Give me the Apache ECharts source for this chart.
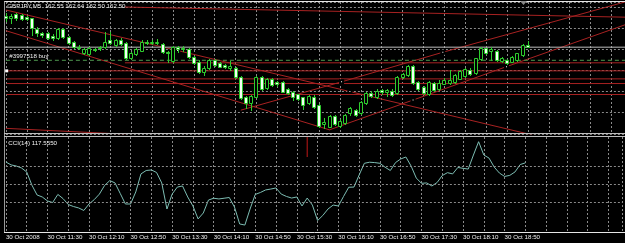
<!DOCTYPE html>
<html>
<head>
<meta charset="utf-8">
<script src="https://cdn.jsdelivr.net/npm/echarts@6/dist/echarts.min.js"></script>
<style>
html, body { margin: 0; padding: 0; background: #000; }
#chart { width: 625px; height: 243px; }
</style>
</head>
<body>
<div id="chart"></div>
<script>
// GBPJPY M5, 30 Oct 2008 - bar 0 is 10:50, bar 100 is 19:10
var opens = [163.24,163.19,163.29,163.26,163.21,163.18,162.93,162.84,162.84,162.76,
  162.72,162.93,162.74,162.62,162.51,162.36,162.34,162.46,162.47,162.50,
  162.67,162.55,162.67,162.60,162.24,162.34,162.42,162.62,162.60,162.60,
  162.58,162.39,162.17,162.50,162.48,162.45,162.26,162.16,161.91,162.01,
  162.20,162.12,162.08,162.01,162.00,161.80,161.32,161.19,161.33,161.79,
  161.53,161.74,161.68,161.68,161.50,161.44,161.39,161.31,161.17,161.33,
  161.13,160.68,160.62,160.87,160.64,160.71,160.94,161.01,160.94,161.18,
  161.42,161.32,161.48,161.44,161.47,161.41,161.79,161.84,162.06,161.68,
  161.55,161.39,161.66,161.50,161.63,161.66,161.68,161.75,161.82,161.96,
  161.88,162.21,162.47,162.41,162.42,162.17,162.20,162.16,162.20,162.32,
  162.55];
var highs = [163.31,163.29,163.31,163.29,163.24,163.20,162.98,162.87,162.86,162.81,
  162.95,162.95,162.76,162.65,162.54,162.48,162.50,162.49,162.53,162.86,
  162.87,162.69,162.72,162.62,162.39,162.47,162.67,162.67,162.66,162.69,
  162.60,162.42,162.53,162.53,162.52,162.48,162.29,162.19,162.06,162.22,
  162.22,162.15,162.10,162.17,162.03,161.83,161.35,161.37,161.82,161.82,
  161.76,161.76,161.71,161.70,161.53,161.46,161.40,161.33,161.37,161.36,
  161.16,160.83,160.90,160.90,160.79,160.92,161.09,161.04,161.23,161.44,
  161.46,161.50,161.52,161.51,161.50,161.81,161.89,162.08,162.08,161.70,
  161.58,161.70,161.68,161.72,161.76,161.96,161.87,161.96,162.00,162.01,
  162.24,162.50,162.48,162.50,162.43,162.27,162.22,162.29,162.37,162.58,
  162.64];
var lows = [163.12,163.08,163.14,163.14,163.14,162.79,162.76,162.74,162.69,162.67,
  162.69,162.72,162.58,162.49,162.46,162.34,162.32,162.41,162.43,162.48,
  162.58,162.53,162.55,162.22,162.22,162.32,162.41,162.58,162.58,162.58,
  162.36,162.15,162.15,162.39,162.41,162.24,162.10,161.89,161.84,161.98,
  162.06,162.02,162.00,161.96,161.78,161.27,161.06,161.01,161.31,161.49,
  161.51,161.58,161.58,161.43,161.39,161.25,161.25,161.04,161.16,161.06,
  160.61,160.59,160.60,160.66,160.61,160.68,160.90,160.87,160.92,161.16,
  161.32,161.30,161.40,161.35,161.35,161.39,161.77,161.82,161.63,161.49,
  161.40,161.37,161.46,161.49,161.62,161.64,161.66,161.74,161.79,161.84,
  161.87,162.20,162.35,162.20,162.17,162.15,162.11,162.14,162.17,162.29,
  162.50];
var closes = [163.19,163.24,163.19,163.17,163.17,162.95,162.84,162.80,162.72,162.72,
  162.93,162.74,162.60,162.51,162.48,162.46,162.48,162.44,162.50,162.62,
  162.60,162.67,162.58,162.24,162.36,162.45,162.62,162.60,162.62,162.62,
  162.39,162.36,162.50,162.46,162.45,162.26,162.12,161.92,162.00,162.20,
  162.08,162.04,162.02,162.06,161.80,161.29,161.17,161.35,161.79,161.51,
  161.74,161.61,161.62,161.45,161.41,161.33,161.27,161.13,161.35,161.09,
  160.64,160.73,160.87,160.68,160.75,160.90,161.05,160.90,161.21,161.42,
  161.35,161.47,161.43,161.49,161.37,161.79,161.87,162.06,161.65,161.50,
  161.42,161.68,161.49,161.66,161.72,161.72,161.84,161.94,161.98,161.87,
  162.24,162.47,162.37,162.46,162.20,162.24,162.13,162.26,162.36,162.55,
  162.50];
var cci = [122,106,100,89,67,-6,-61,-72,-94,-103,
  -58,-81,-114,-125,-133,-147,-111,-87,-56,-8,
  19,6,-52,-111,-111,-44,56,75,78,64,
  6,-139,-56,-17,-11,-72,-122,-194,-161,-89,
  -79,-83,-79,-75,-128,-222,-228,-139,-58,-47,
  -33,-28,-22,-56,-69,-78,-72,-122,-78,-117,
  -203,-175,-139,-117,-122,-69,-18,-17,50,115,
  121,119,115,93,75,119,139,150,100,33,
  4,6,-11,8,47,63,56,92,87,83,
  161,235,161,144,94,61,42,48,67,108,
  117.555];
var cciLevels = [100, 0, -100];

var tickBars = [0, 8, 16, 24, 32, 40, 48, 56, 64, 72, 80, 88, 96];
var tickLabels = ['30 Oct 2008', '30 Oct 11:30', '30 Oct 12:10', '30 Oct 12:50', '30 Oct 13:30',
  '30 Oct 14:10', '30 Oct 14:50', '30 Oct 15:30', '30 Oct 16:10', '30 Oct 16:50',
  '30 Oct 17:30', '30 Oct 18:10', '30 Oct 18:50'];

// drawn objects, as [bar, price]
var trendA = [[0, 163.38], [32.9, 162.42], [65.9, 161.45], [102, 160.39]];
var trendB = [[0, 162.89], [62.1, 160.54]];
var trendC1 = [[45, 161.01], [64.3, 161.68], [83.7, 162.38], [118.6, 163.57]];
var trendC2 = [[62.1, 160.55], [78, 161.25], [95.9, 162.04], [118.6, 163.03]];
var trendTop = [[22.8, 163.45], [118.6, 163.21]];
var trendLow = [[0, 160.58], [23, 160.44]];
var levelsFull = [161.94, 161.75, 161.64, 161.38];
var levelLate = 162.13;
var orderPrice = 162.19;
var bidPrice = 162.50;
var cciMarkBar = 58;

var GREEN = '#2ecc2e';
var RED = '#a82222';
var GRID = '#8a8a8a';

var candleData = opens.map(function (o, i) { return [i, o, closes[i], lows[i], highs[i]]; });
var cciData = cci.map(function (v, i) { return [i, v]; });

function renderCandle(params, api) {
  var i = api.value(0);
  var o = api.coord([i, api.value(1)]);
  var c = api.coord([i, api.value(2)]);
  var l = api.coord([i, api.value(3)]);
  var h = api.coord([i, api.value(4)]);
  var x = Math.round(o[0]) + 0.5;
  var top = Math.round(Math.min(o[1], c[1])) + 0.5;
  var bot = Math.round(Math.max(o[1], c[1])) + 0.5;
  var bear = api.value(2) < api.value(1);
  return {
    type: 'group',
    children: [
      { type: 'line', shape: { x1: x, y1: Math.round(h[1]), x2: x, y2: Math.round(l[1]) + 1 },
        style: { stroke: GREEN, lineWidth: 1 } },
      { type: 'rect', shape: { x: x - 2, y: top, width: 3, height: Math.max(bot - top, 0) },
        style: { fill: bear ? '#f4fff4' : '#000', stroke: GREEN, lineWidth: 1 } }
    ]
  };
}

function anchored(pts) {
  // first/last points are ends of the ray, middle ones are the anchor squares
  return pts.map(function (p, k) {
    if (k === 0 || k === pts.length - 1) return { value: p, symbol: 'none' };
    return { value: p, symbol: 'emptyRect', symbolSize: 3 };
  });
}

function redLine(pts) {
  return {
    type: 'line', xAxisIndex: 0, yAxisIndex: 0, data: anchored(pts),
    symbol: 'none', showSymbol: true, silent: true, clip: true,
    lineStyle: { color: RED, width: 1 }, itemStyle: { color: '#000', borderColor: RED, borderWidth: 1 },
    z: 3
  };
}

var series = [];
series.push(redLine(trendA));
series.push(redLine(trendB));
series.push(redLine(trendC1));
series.push(redLine(trendC2));
series.push(redLine(trendTop));
series.push(redLine(trendLow));
levelsFull.forEach(function (p, k) {
  series.push({
    type: 'line', xAxisIndex: 0, yAxisIndex: 0, silent: true,
    data: [{ value: [0.15, p], symbol: k === 0 ? 'rect' : 'none', symbolSize: 3 }, { value: [118.6, p], symbol: 'none' }],
    symbol: 'none', showSymbol: true,
    lineStyle: { color: RED, width: 1 }, itemStyle: { color: '#fff' }, z: 3
  });
});
series.push({
  type: 'line', xAxisIndex: 0, yAxisIndex: 0, silent: true, symbol: 'none',
  data: [[22.8, levelLate], [118.6, levelLate]],
  lineStyle: { color: RED, width: 1 }, z: 3
});
series.push({
  type: 'line', xAxisIndex: 0, yAxisIndex: 0, silent: true, symbol: 'none',
  data: [[0, orderPrice], [118.6, orderPrice]],
  lineStyle: { color: '#4f9a4f', width: 1, type: [4, 3] }, z: 3
});
series.push({
  type: 'line', xAxisIndex: 0, yAxisIndex: 0, silent: true, symbol: 'none',
  data: [[-1, bidPrice], [118.6, bidPrice]],
  lineStyle: { color: '#bdbdbd', width: 1 }, z: 3
});
series.push({
  type: 'custom', xAxisIndex: 0, yAxisIndex: 0, renderItem: renderCandle,
  data: candleData, encode: { x: 0, y: [1, 2, 3, 4] }, z: 5, silent: true
});
series.push({
  type: 'line', xAxisIndex: 1, yAxisIndex: 1, data: cciData, symbol: 'none', silent: true,
  lineStyle: { color: '#7dbdb3', width: 1 }, z: 4,
  markLine: {
    silent: true, symbol: 'none', label: { show: false },
    lineStyle: { color: GRID, type: [2, 2], width: 1 },
    data: cciLevels.map(function (v) { return { yAxis: v }; })
  }
});
series.push({
  type: 'line', xAxisIndex: 1, yAxisIndex: 1, silent: true, symbol: 'none',
  data: [[cciMarkBar, 261], [cciMarkBar, 150]],
  lineStyle: { color: '#c01818', width: 1 }, z: 4
});

function xAxisCfg(idx, labels) {
  return {
    gridIndex: idx, type: 'value', min: 0, max: 118.6, interval: 4,
    axisLine: { show: false }, axisTick: { show: false },
    splitLine: { show: true, lineStyle: { color: GRID, type: [2, 2], width: 1 } },
    axisLabel: labels ? {
      show: true, color: '#f0f0f0', fontSize: 6.2, fontFamily: 'Liberation Sans',
      align: 'left', margin: 2,
      formatter: function (v) {
        var k = tickBars.indexOf(Math.round(v));
        return k < 0 ? '' : tickLabels[k];
      }
    } : { show: false }
  };
}

var txt = { fill: '#f0f0f0', fontSize: 6.2, fontFamily: 'Liberation Sans', verticalAlign: 'middle' };

var chart = echarts.init(document.getElementById('chart'));
chart.setOption({
  backgroundColor: '#000',
  animation: false,
  grid: [
    { left: 5.9, right: 0, top: 2, height: 131.84 },
    { left: 5.9, right: 0, top: 137, height: 95.5 }
  ],
  xAxis: [xAxisCfg(0, false), xAxisCfg(1, true)],
  yAxis: [
    { gridIndex: 0, type: 'value', min: 160.45, max: 163.569, interval: 0.5,
      axisLine: { show: false }, axisTick: { show: false }, axisLabel: { show: false },
      splitLine: { show: true, lineStyle: { color: GRID, type: [2, 2], width: 1 } } },
    { gridIndex: 1, type: 'value', min: -269.4, max: 261.1,
      axisLine: { show: false }, axisTick: { show: false }, axisLabel: { show: false },
      splitLine: { show: false } }
  ],
  series: series,
  graphic: [
    { type: 'line', z: 50, shape: { x1: 4, y1: 1.5, x2: 625, y2: 1.5 }, style: { stroke: '#e6e6e6', lineWidth: 1 } },
    { type: 'line', z: 50, shape: { x1: 4.5, y1: 1.5, x2: 4.5, y2: 232.5 }, style: { stroke: '#9a9a9a', lineWidth: 1 } },
    { type: 'line', z: 50, shape: { x1: 4, y1: 133.5, x2: 625, y2: 133.5 }, style: { stroke: '#bdbdbd', lineWidth: 1 } },
    { type: 'line', z: 50, shape: { x1: 4, y1: 136.5, x2: 625, y2: 136.5 }, style: { stroke: '#bdbdbd', lineWidth: 1 } },
    { type: 'line', z: 50, shape: { x1: 4, y1: 232.5, x2: 625, y2: 232.5 }, style: { stroke: '#e6e6e6', lineWidth: 1 } },
    { type: 'polygon', z: 50, shape: { points: [[520, 1], [527, 1], [523.5, 5]] }, style: { fill: '#8a8a8a' } },
    { type: 'text', z: 60, style: Object.assign({ text: 'GBPJPY,M5  162.55 162.64 162.50 162.50', x: 7.3, y: 6 }, txt) },
    { type: 'text', z: 60, style: Object.assign({ text: '#3997518 buy', x: 9.3, y: 56.7 }, txt) },
    { type: 'text', z: 60, style: Object.assign({ text: 'CCI(14) 117.5550', x: 8.3, y: 143 }, txt) }
  ]
});
</script>
</body>
</html>
